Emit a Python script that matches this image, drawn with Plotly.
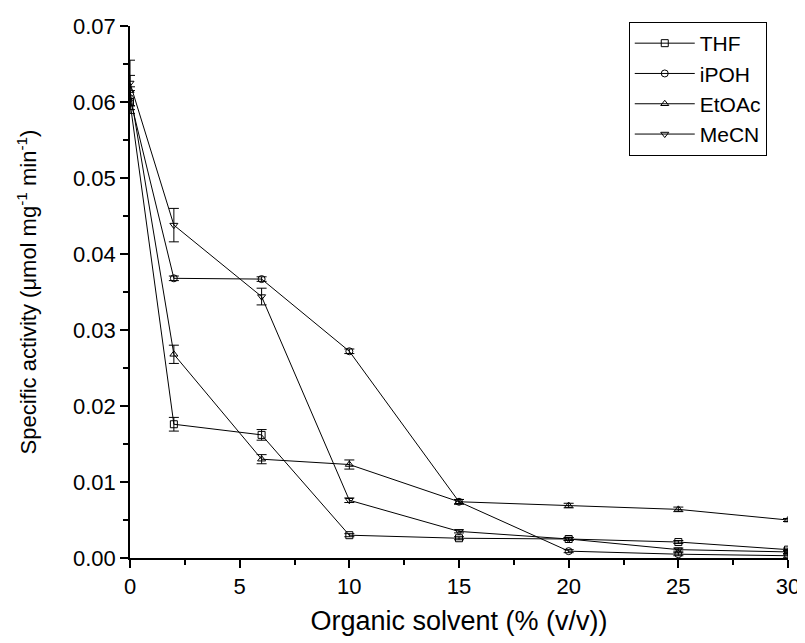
import plotly.graph_objects as go

x_vals = [0, 2, 6, 10, 15, 20, 25, 30]

thf = [0.0600, 0.0176, 0.0162, 0.0030, 0.0026, 0.0025, 0.0021, 0.0011]
thf_err = [0.0015, 0.0009, 0.0007, 0.0002, 0.0002, 0.0002, 0.0002, 0.0002]

ipoh = [0.0605, 0.0368, 0.0367, 0.0272, 0.0074, 0.0009, 0.0005, 0.0003]
ipoh_err = [0.0015, 0.0003, 0.0003, 0.0003, 0.0003, 0.0002, 0.0002, 0.0002]

etoac = [0.0615, 0.0268, 0.0130, 0.0123, 0.0074, 0.0069, 0.0064, 0.0050]
etoac_err = [0.0020, 0.0012, 0.0006, 0.0006, 0.0003, 0.0003, 0.0003, 0.0002]

mecn = [0.0625, 0.0438, 0.0344, 0.0076, 0.0035, 0.0025, 0.0011, 0.0008]
mecn_err = [0.0030, 0.0022, 0.0011, 0.0003, 0.0002, 0.0002, 0.0002, 0.0002]

series = [
    ("THF", thf, thf_err, "square-open"),
    ("iPOH", ipoh, ipoh_err, "circle-open"),
    ("EtOAc", etoac, etoac_err, "triangle-up-open"),
    ("MeCN", mecn, mecn_err, "triangle-down-open"),
]

FONT = "Liberation Sans, Arial, sans-serif"

fig = go.Figure()
for name, yv, ev, sym in series:
    fig.add_trace(go.Scatter(
        x=x_vals, y=yv, name=name, mode="lines+markers",
        line=dict(color="black", width=1),
        marker=dict(symbol=sym, size=7, color="black", line=dict(color="black", width=1)),
        error_y=dict(type="data", array=ev, visible=True, color="black", thickness=1, width=5),
    ))

tick_font = dict(family=FONT, size=22, color="black")
# page body adds an 8px offset, so the figure is 8px smaller on each leading side
fig.update_layout(
    width=797, height=635,
    margin=dict(l=122, r=17, t=18, b=85),
    plot_bgcolor="white", paper_bgcolor="white",
    font=dict(family=FONT, color="black"),
    showlegend=True,
    legend=dict(
        x=0.758, y=1.0075, xanchor="left", yanchor="top",
        bordercolor="black", borderwidth=1, bgcolor="white",
        font=dict(size=21, family=FONT, color="black"),
        itemwidth=60,
    ),
)
fig.update_xaxes(
    range=[0, 30], tickvals=[0, 5, 10, 15, 20, 25, 30],
    automargin=False,
    showgrid=False, zeroline=False, showline=True, linecolor="black", linewidth=1.5,
    ticks="outside", ticklen=8, tickwidth=1.5, tickcolor="black",
    minor=dict(ticks="outside", ticklen=5, tickwidth=1.5, tickcolor="black", dtick=2.5),
    tickfont=tick_font,
    title=dict(text="Organic solvent (% (v/v))", font=dict(size=27, family=FONT, color="black"), standoff=13),
)
fig.update_yaxes(
    range=[0, 0.07], tickvals=[0, 0.01, 0.02, 0.03, 0.04, 0.05, 0.06, 0.07],
    tickformat=".2f",
    automargin=False,
    showgrid=False, zeroline=False, showline=True, linecolor="black", linewidth=1.5,
    ticks="outside", ticklen=8, tickwidth=1.5, tickcolor="black",
    minor=dict(ticks="outside", ticklen=5, tickwidth=1.5, tickcolor="black", dtick=0.005),
    tickfont=tick_font,
    title=dict(text="Specific activity (\u03bcmol mg<sup>-1</sup> min<sup>-1</sup>)", font=dict(size=22, family=FONT, color="black"), standoff=30),
)

fig.write_html("out.html")
